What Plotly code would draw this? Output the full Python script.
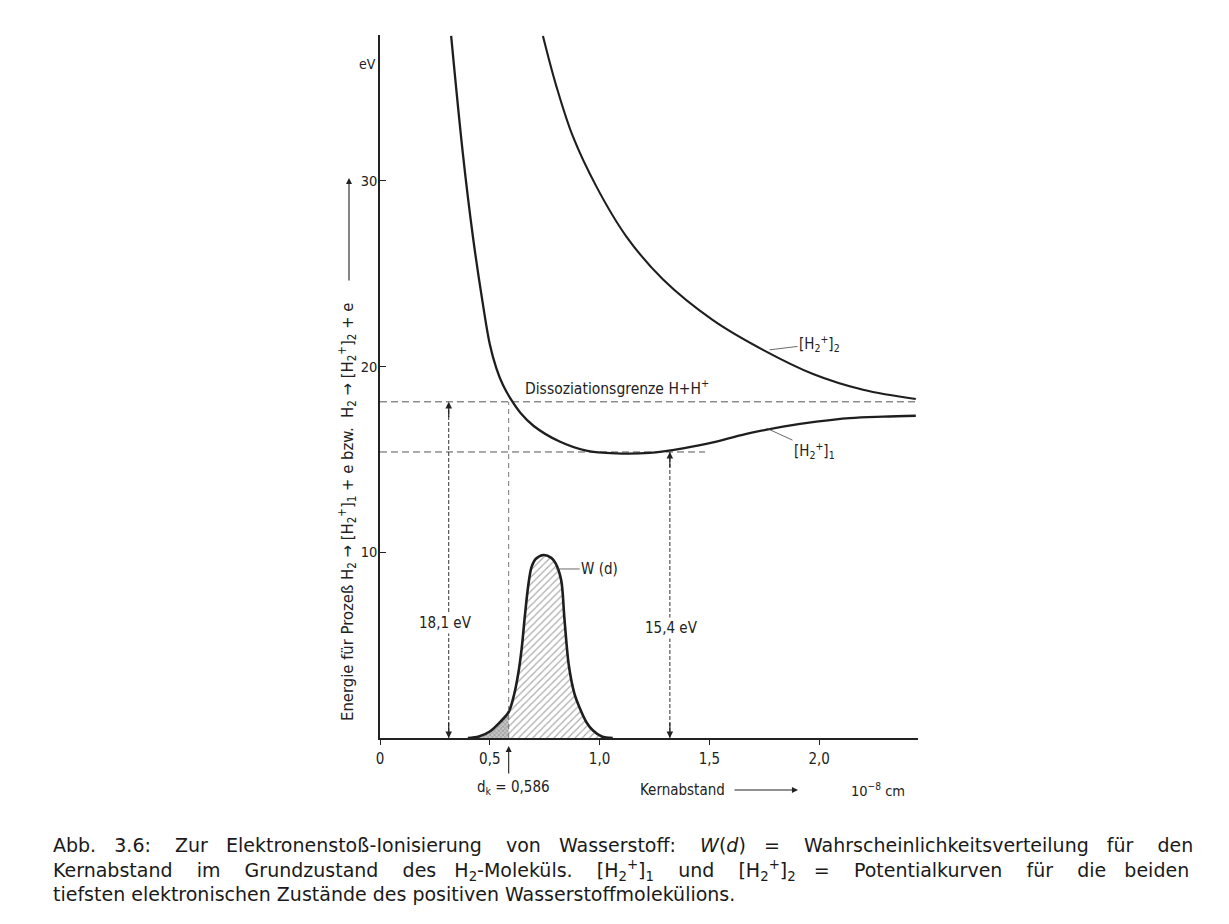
import plotly.graph_objects as go

# ---------------- data ----------------
# Kernabstand d in 10^-8 cm, Energie in eV
h2p1_d = [0.324, 0.377, 0.423, 0.468, 0.50, 0.53, 0.56, 0.598, 0.64, 0.70, 0.818,
          0.939, 1.076, 1.228, 1.380, 1.532, 1.683, 1.835, 1.987, 2.139, 2.291, 2.44]
h2p1_E = [37.8, 31.5, 27.0, 23.4, 21.2, 19.9, 19.0, 18.2, 17.5, 16.8, 15.96,
          15.47, 15.32, 15.35, 15.6, 15.96, 16.41, 16.76, 17.03, 17.22, 17.30, 17.35]

h2p2_d = [0.742, 0.803, 0.878, 0.985, 1.122, 1.288, 1.516, 1.744, 1.972, 2.2, 2.44]
h2p2_E = [37.8, 35.1, 32.4, 29.7, 27.0, 24.7, 22.5, 20.9, 19.6, 18.75, 18.25]

W_d = [0.40, 0.45, 0.50, 0.55, 0.586, 0.61, 0.63, 0.645, 0.66, 0.675, 0.69, 0.71,
       0.745, 0.78, 0.80, 0.825, 0.84, 0.86, 0.885, 0.91, 0.94, 0.97, 1.01, 1.06]
W_E = [0.0, 0.08, 0.35, 0.9, 1.4, 2.3, 3.5, 4.8, 6.6, 8.2, 9.2, 9.65,
       9.85, 9.7, 9.4, 8.5, 6.4, 3.9, 2.4, 1.6, 0.85, 0.4, 0.08, 0.0]

dissociation_level = 18.1   # eV
ionisation_level = 15.4     # eV
d_k = 0.586
d_arrow_181 = 0.313
d_arrow_154 = 1.32
d_end_154 = 1.48
d_max = 2.45
E_max = 37.85

x_tickvals = [0, 0.5, 1.0, 1.5, 2.0]
x_ticktext = ["0", "0,5", "1,0", "1,5", "2,0"]
y_tickvals = [10, 20, 30]
y_ticktext = ["10", "20", "30"]

caption_words = [
    ["Abb.", "3.6:", "Zur", "Elektronenstoß-Ionisierung", "von", "Wasserstoff:",
     "<i>W</i>(<i>d</i>)", "=", "Wahrscheinlichkeitsverteilung", "für", "den"],
    ["Kernabstand", "im", "Grundzustand", "des", "H<sub>2</sub>-Moleküls.",
     "[H<sub>2</sub><sup>+</sup>]<sub>1</sub>", "und", "[H<sub>2</sub><sup>+</sup>]<sub>2</sub>",
     "=", "Potentialkurven", "für", "die", "beiden"],
    ["tiefsten", "elektronischen", "Zustände", "des", "positiven", "Wasserstoffmolekülions."],
]

# ---------------- layout helpers (pixel -> coordinates) ----------------
L, R, T, B = 380, 1229 - 918, 35, 924 - 738
PW, PH = 1229 - L - R, 924 - T - B
SX = PW / d_max
SY = PH / E_max
def dx(px):
    return (px - L) / SX
def ey(py):
    return (738 - py) / SY
def qx(px):
    return (px - L) / PW
def qy(py):
    return (738 - py) / PH

FONT = "DejaVu Sans Condensed, Liberation Sans Narrow, DejaVu Sans, sans-serif"
INK = "#1e1e1e"

fig = go.Figure()

# W(d) hatched area
fig.add_trace(go.Scatter(x=W_d, y=W_E, mode="lines", fill="tozeroy",
                         line=dict(width=0, shape="spline", smoothing=0.9),
                         fillcolor="white",
                         fillpattern=dict(shape="/", fgcolor="#505050", bgcolor="white",
                                          size=5, solidity=0.22),
                         hoverinfo="skip", showlegend=False))
# darker tail below d_k
fig.add_trace(go.Scatter(x=W_d[:5], y=W_E[:5], mode="lines", fill="tozeroy",
                         line=dict(width=0, shape="spline", smoothing=0.9),
                         fillpattern=dict(shape="x", fgcolor="#555555", bgcolor="#c4c4c4",
                                          size=3, solidity=0.35),
                         hoverinfo="skip", showlegend=False))
# W(d) outline
fig.add_trace(go.Scatter(x=W_d, y=W_E, mode="lines",
                         line=dict(color=INK, width=2.6, shape="spline", smoothing=0.9),
                         showlegend=False))

# dashed reference lines
fig.add_trace(go.Scatter(x=[0, d_max], y=[dissociation_level] * 2, mode="lines",
                         line=dict(color="#555", width=1, dash="7px,4px"), showlegend=False))
fig.add_trace(go.Scatter(x=[0, d_end_154], y=[ionisation_level] * 2, mode="lines",
                         line=dict(color="#555", width=1, dash="7px,4px"), showlegend=False))
fig.add_trace(go.Scatter(x=[d_k, d_k], y=[0, dissociation_level], mode="lines",
                         line=dict(color="#666", width=0.9, dash="5px,4px"), showlegend=False))
# energy arrows (shafts)
fig.add_trace(go.Scatter(x=[d_arrow_181] * 2, y=[0, dissociation_level], mode="lines",
                         line=dict(color="#333", width=1, dash="4px,2px"), showlegend=False))
fig.add_trace(go.Scatter(x=[d_arrow_154] * 2, y=[0, ionisation_level], mode="lines",
                         line=dict(color="#333", width=1, dash="4px,2px"), showlegend=False))

# potential curves
fig.add_trace(go.Scatter(x=h2p1_d, y=h2p1_E, mode="lines",
                         line=dict(color=INK, width=2.3, shape="spline", smoothing=1.0),
                         showlegend=False))
fig.add_trace(go.Scatter(x=h2p2_d, y=h2p2_E, mode="lines",
                         line=dict(color=INK, width=2.1, shape="spline", smoothing=1.0),
                         showlegend=False))

ann = []
def arrowhead(x, y, ax, ay, width=1.2):
    ann.append(dict(x=x, y=y, ax=ax, ay=ay, xref="x", yref="y", axref="x", ayref="y",
                    text="", showarrow=True, arrowhead=2, arrowsize=1.1,
                    arrowwidth=width, arrowcolor="#222"))

def paper_arrow(hx, hy, offx, offy, width=1.1):
    ann.append(dict(x=qx(hx), y=qy(hy), xref="paper", yref="paper", ax=offx, ay=offy,
                    text="", showarrow=True, arrowhead=2, arrowsize=1.1,
                    arrowwidth=width, arrowcolor="#222"))

# double arrows
arrowhead(d_arrow_181, dissociation_level, d_arrow_181, dissociation_level - 0.9)
arrowhead(d_arrow_181, 0, d_arrow_181, 0.9)
arrowhead(d_arrow_154, ionisation_level, d_arrow_154, ionisation_level - 0.9)
arrowhead(d_arrow_154, 0, d_arrow_154, 0.9)
# d_k arrow below axis
paper_arrow(L + d_k * SX, 746, 0, 29)
# y-title arrow
paper_arrow(349, 178, 0, 104)
# Kernabstand arrow
paper_arrow(798, 790, -65, 0)

def text(x, y, s, size=14, anchor="center", angle=0, bg=None, color="#222", family=FONT):
    d = dict(x=x, y=y, xref="x", yref="y", text=s, showarrow=False,
             xanchor=anchor, yanchor="middle", textangle=angle,
             font=dict(family=family, size=size, color=color))
    if bg:
        d["bgcolor"] = bg
    ann.append(d)

def ptext(px, py, s, size=14, anchor="center", angle=0, color="#222", family=FONT, align="center"):
    ann.append(dict(x=qx(px), y=qy(py), xref="paper", yref="paper", text=s, showarrow=False,
                    xanchor=anchor, yanchor="middle", textangle=angle, align=align,
                    font=dict(family=family, size=size, color=color)))

text(dx(617), ey(387), "Dissoziationsgrenze H+H<sup>+</sup>", size=15.5)
text(dx(445), ey(623), "18,1 eV", size=15, bg="white")
text(dx(671), ey(628), "15,4 eV", size=15, bg="white")
ptext(378, 64, "eV", size=14, anchor="right")
ptext(347, 512, "Energie für Prozeß H<sub>2</sub> → [H<sub>2</sub><sup>+</sup>]<sub>1</sub> + e bzw.  "
      "H<sub>2</sub> → [H<sub>2</sub><sup>+</sup>]<sub>2</sub> + e", size=16.5, angle=-90)
ptext(L + d_k * SX + 5, 787, "d<sub>k</sub> = " + f"{d_k:.3f}".replace(".", ","), size=15)
ptext(682, 790, "Kernabstand", size=15)
ptext(878, 790, "10<sup>−8</sup> cm", size=14.5)

# curve labels with leader lines
def leader(x, y, s, axp, ayp, size=15):
    ann.append(dict(x=x, y=y, xref="x", yref="y", ax=axp, ay=ayp, text=s,
                    showarrow=True, arrowhead=0, arrowwidth=0.8, arrowcolor="#444",
                    font=dict(family=FONT, size=size, color="#222")))

leader(1.774, 20.9, "[H<sub>2</sub><sup>+</sup>]<sub>2</sub>", 50, -6)
leader(1.76, 16.68, "[H<sub>2</sub><sup>+</sup>]<sub>1</sub>", 48, 22)
leader(0.80, 9.1, "W (d)", 44, 0)

# caption (one block, first two lines padded to look justified)
NB = "\u00a0"
def join_words(words, pads):
    out = words[0]
    for i, w in enumerate(words[1:]):
        out += " " + NB * pads[i % len(pads)] + w
    return out

cap_text = "<br>".join([
    join_words(caption_words[0], [2, 3]),
    join_words(caption_words[1], [3, 3, 3, 2]),
    join_words(caption_words[2], [0]),
])
ptext(51, 869, cap_text, size=19, anchor="left", family="DejaVu Sans, sans-serif",
      color="#1a1a1a", align="left")

fig.update_layout(
    width=1229, height=924,
    margin=dict(l=L, r=R, t=T, b=B),
    paper_bgcolor="white", plot_bgcolor="white",
    annotations=ann,
    xaxis=dict(range=[0, d_max], showgrid=False, zeroline=False, showline=True,
               linecolor="#222", linewidth=1.5, ticks="outside", ticklen=5, tickwidth=1,
               tickcolor="#222", tickvals=x_tickvals, ticktext=x_ticktext,
               ticklabelstandoff=1,
               tickfont=dict(family=FONT, size=15, color="#222")),
    yaxis=dict(range=[0, E_max], showgrid=False, zeroline=False, showline=True,
               linecolor="#222", linewidth=1.5, ticks="inside", ticklen=6, tickwidth=1,
               tickcolor="#222", tickvals=y_tickvals, ticktext=y_ticktext,
               ticklabelstandoff=-2,
               tickfont=dict(family=FONT, size=14.5, color="#222")),
)

fig.write_html("out.html")
